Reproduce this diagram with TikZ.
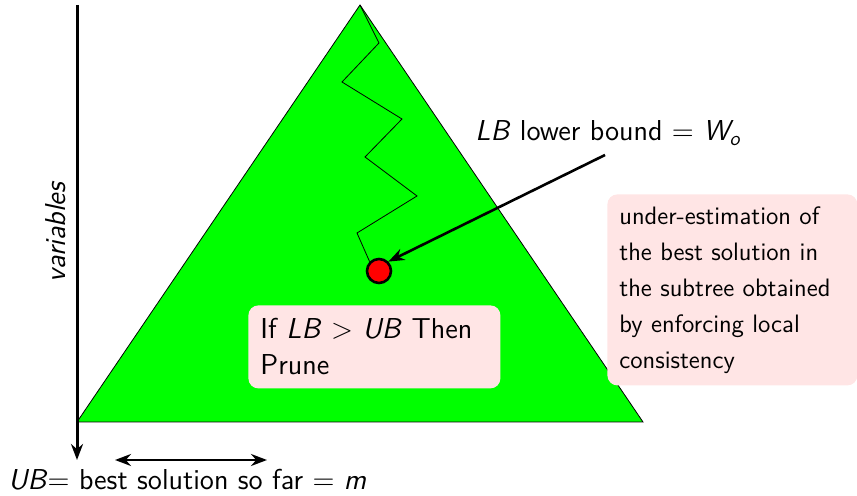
\documentclass[tikz,border=0pt]{standalone}
\usepackage{amsmath, amssymb}
\usepackage{xcolor}
\usepackage{tikz}
\usetikzlibrary{arrows.meta, positioning}

\begin{document}
\begin{tikzpicture}[
    x=0.5pt, y=-0.5pt,
    every node/.style={font=\sffamily\Large},
    note/.style={fill=red!10, rounded corners=5pt, align=left, inner sep=6pt},
    axis/.style={-{Stealth[length=8pt, width=6pt]}, line width=1.5pt},
    arrow/.style={-{Stealth[length=8pt, width=6pt]}, line width=1.3pt},
]
\useasboundingbox (0,0) rectangle (857,496);

% === Search tree ===
\coordinate (apex) at (360,5);
\coordinate (bl) at (77,422);
\coordinate (br) at (643,422);
\draw[fill=green] (apex) -- (bl) -- (br) -- cycle;

% === Axis ===
\coordinate (top) at (77,5);
\coordinate (bot) at (77,460);
\draw[axis] (top) -- (bot);
\node[rotate=90] (vars) at (56,232) {\textit{variables}};

% === Current branch ===
\node[circle, draw, line width=1.3pt, fill=red, minimum size=12pt, inner sep=0pt] (dot) at (379,271) {};
\draw (apex) -- (379,43) -- (342,82) -- (402,119) -- (365,157) -- (417,196) -- (357,233) -- (dot.north west);

% === Lower bound ===
\node (lb) at (608,133) {\textit{LB} lower bound $=$ \textit{W\textsubscript{o}}};
\coordinate (lbstart) at (605,155);
\draw[arrow] (lbstart) -- (dot.north east);

\node[note, font=\sffamily\fontsize{12.6pt}{18pt}\selectfont, text width=113pt, minimum height=95.5pt, anchor=north west] (estim) at (607,194)
  {under-estimation of\\ the best solution in\\ the subtree obtained\\ by enforcing local\\ consistency};

\node[note, text width=114pt, minimum height=41.5pt, anchor=north west] (prune) at (248,305)
  {If \textit{LB} $>$ \textit{UB} Then\\ Prune};

% === Upper bound ===
\node[anchor=base west, inner sep=0pt] (ub) at (8,490) {\textit{UB}$=$ best solution so far $=$ \textit{m}};
\coordinate (ua) at (115,460);
\coordinate (ub2) at (267,460);
\draw[{Stealth[length=8pt, width=6pt]}-{Stealth[length=8pt, width=6pt]}, line width=1.3pt] (ua) -- (ub2);

\end{tikzpicture}
\end{document}
